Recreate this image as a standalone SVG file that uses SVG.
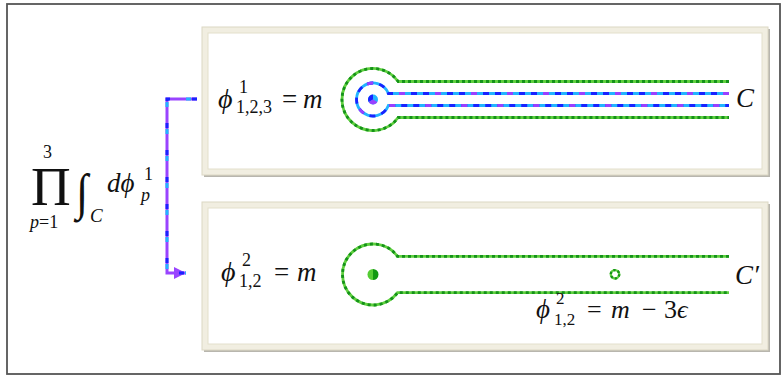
<svg xmlns="http://www.w3.org/2000/svg" width="782" height="377" viewBox="0 0 782 377">
<style>
text{font-family:"Liberation Serif",serif;fill:#111}
.i{font-style:italic}
.g1{fill:none;stroke:#5fd03f;stroke-width:2.8}
.g2{fill:none;stroke:#15921a;stroke-width:2.8;stroke-dasharray:3 3}
.b1{fill:none;stroke:#22b4ff;stroke-width:2.8}
.b2{fill:none;stroke:#1a22ff;stroke-width:2.8;stroke-dasharray:6 6}
.b3{fill:none;stroke:#9a40ff;stroke-width:2.8;stroke-dasharray:6 30}
.c1{fill:none;stroke:#9944ff;stroke-width:3}
.c2{fill:none;stroke:#1a22ff;stroke-width:3;stroke-dasharray:5 22}
.c3{fill:none;stroke:#22b4ff;stroke-width:3;stroke-dasharray:5 22;stroke-dashoffset:-6}
.frame{fill:#f1eee1;stroke:#dcd8c4;stroke-width:1}
.shadow{fill:#b8b6ae}
.inner{fill:#ffffff;stroke:#e3dfcc;stroke-width:1}
</style>
<defs>
<marker id="arr" markerWidth="12" markerHeight="12" refX="12" refY="6" orient="auto" markerUnits="userSpaceOnUse">
<path d="M0,0 L12,6 L0,12 Z" fill="#9944ff"/>
</marker>
</defs>
<rect x="7" y="4" width="773" height="370" fill="#ffffff" stroke="#555" stroke-width="1.8"/>

<g id="formula" font-family="Liberation Serif">
<text x="43" y="158" font-size="18">3</text>
<text x="31" y="205" font-size="55">Π</text>
<text x="30" y="228" font-size="18"><tspan class="i">p</tspan>=1</text>
<text class="i" transform="translate(76,209) scale(1,1.15)" font-size="44">∫</text>
<text class="i" x="90" y="222" font-size="19">C</text>
<text class="i" x="107" y="192" font-size="27">dϕ</text>
<text x="144" y="180" font-size="18">1</text>
<text class="i" x="141" y="201" font-size="18">p</text>
</g>

<g id="connectors">
<path class="c1" d="M197,99 H167 V273 H186" marker-end="url(#arr)"/>
<path class="c2" d="M197,99 H167 V273 H186"/>
<path class="c3" d="M197,99 H167 V273 H186"/>
</g>

<g id="panel1" font-family="Liberation Serif">
<rect class="shadow" x="204" y="29" width="566" height="148"/>
<rect class="frame" x="202" y="27" width="566" height="148"/>
<rect class="inner" x="208" y="33" width="554" height="136"/>
<text class="i" x="218" y="108" font-size="28">ϕ</text>
<text x="239" y="93" font-size="18">1</text>
<text x="236" y="113" font-size="18">1,2,3</text>
<text x="282" y="108" font-size="27">=</text>
<text class="i" x="303" y="108" font-size="27">m</text>
<path class="g1" d="M729,81.5 H398.2 A31,31 0 1 0 398.2,117.5 H729"/>
<path class="g2" d="M729,81.5 H398.2 A31,31 0 1 0 398.2,117.5 H729"/>
<path class="b1" d="M729,93.5 H388.4 A16.5,16.5 0 1 0 388.4,105.5 H729"/>
<path class="b2" d="M729,93.5 H388.4 A16.5,16.5 0 1 0 388.4,105.5 H729"/>
<path class="b3" d="M729,93.5 H388.4 A16.5,16.5 0 1 0 388.4,105.5 H729"/>
<circle cx="373" cy="99.5" r="5" fill="#22b4ff"/>
<path d="M373,99.5 L373,94.5 A5,5 0 0 0 368.7,102 Z" fill="#1a22ff"/>
<path d="M373,99.5 L368.7,102 A5,5 0 0 0 377.3,102 Z" fill="#9a40ff"/>
<text class="i" x="736" y="107" font-size="27">C</text>
</g>

<g id="panel2" font-family="Liberation Serif">
<rect class="shadow" x="204" y="204" width="566" height="148"/>
<rect class="frame" x="202" y="202" width="566" height="148"/>
<rect class="inner" x="208" y="208" width="554" height="136"/>
<text class="i" x="221" y="281" font-size="28">ϕ</text>
<text x="242" y="266" font-size="18">2</text>
<text x="239" y="287" font-size="18">1,2</text>
<text x="274" y="281" font-size="27">=</text>
<text class="i" x="297" y="281" font-size="27">m</text>
<path class="g1" d="M729,256.3 H397.5 A30.5,30.5 0 1 0 397.5,292.7 H729"/>
<path class="g2" d="M729,256.3 H397.5 A30.5,30.5 0 1 0 397.5,292.7 H729"/>
<path d="M373,269 A5.5,5.5 0 0 0 373,280 Z" fill="#55cc33"/>
<path d="M373,269 A5.5,5.5 0 0 1 373,280 Z" fill="#119911"/>
<circle cx="615" cy="274.3" r="4.2" fill="#fff" stroke="#5fd03f" stroke-width="2.4"/>
<circle cx="615" cy="274.3" r="4.2" fill="none" stroke="#15921a" stroke-width="2.4" stroke-dasharray="2.2 2.2"/>
<text class="i" x="735" y="284" font-size="27">C′</text>
<text class="i" x="536" y="318" font-size="27">ϕ</text>
<text x="556" y="304" font-size="17">2</text>
<text x="554" y="325" font-size="17">1,2</text>
<text x="587" y="318" font-size="26">=</text>
<text class="i" x="611" y="318" font-size="26">m</text>
<text x="642" y="318" font-size="26">−</text>
<text x="664" y="318" font-size="26">3</text>
<text class="i" x="677" y="318" font-size="26">ϵ</text>
</g>
</svg>
